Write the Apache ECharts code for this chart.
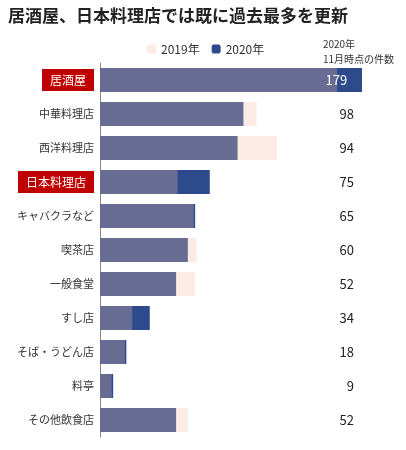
<!DOCTYPE html>
<html><head><meta charset="utf-8">
<script src="https://cdn.jsdelivr.net/npm/echarts@6/dist/echarts.min.js"></script>
<style>html,body{margin:0;padding:0;background:#fff}#c{width:406px;height:450px}</style>
</head><body><div id="c"></div>
<script>
const categories = ['居酒屋','中華料理店','西洋料理店','日本料理店','キャバクラなど','喫茶店','一般食堂','すし店','そば・うどん店','料亭','その他飲食店'];
const values2019 = [162,107,121,53,64,66,65,22,17,8,60];
const values2020 = [179,98,94,75,65,60,52,34,18,9,52];
const highlighted = ['居酒屋','日本料理店'];
const font = '"Noto Sans CJK JP", sans-serif';
const chart = echarts.init(document.getElementById('c'));
chart.setOption({
  animation:false,
  textStyle:{fontFamily:font},
  title:{text:'居酒屋、日本料理店では既に過去最多を更新',left:3,top:2,textStyle:{fontSize:17,fontWeight:'bold',color:'#222',fontFamily:font}},
  legend:{data:['2019年','2020年'],left:142,top:38,itemWidth:9,itemHeight:9,itemGap:12,textStyle:{fontSize:12,color:'#333'}},
  graphic:[{type:'text',right:12,top:37,style:{text:'2020年\n11月時点の件数',align:'center',fill:'#333',font:'10px '+font,lineHeight:15}}],
  grid:{left:100,right:44,top:63,bottom:13},
  xAxis:{type:'value',min:0,max:179,show:false},
  yAxis:[{type:'category',inverse:true,data:categories,axisTick:{show:false},
    axisLine:{lineStyle:{color:'#888'}},
    axisLabel:{margin:6,fontSize:11,color:'#333',formatter:v=>highlighted.includes(v)?'{h|'+v+'}':v,
      rich:{h:{backgroundColor:'#c00000',color:'#fff',fontSize:12,padding:[5,8,5,8]}}}},
   {type:'category',inverse:true,position:'right',data:values2020.map(String),axisLine:{show:false},axisTick:{show:false},
    axisLabel:{margin:-8,align:'right',fontSize:13,color:'#222',formatter:(v,i)=>i===0?'':v}}],
  series:[
    {name:'2020年',type:'bar',data:values2020,barWidth:24,itemStyle:{color:'rgb(44,74,140)'},z:2},
    {name:'2019年',type:'bar',data:values2019,barWidth:24,barGap:'-100%',itemStyle:{color:'rgba(245,188,165,0.3)'},z:3,
     label:{show:true,position:'insideRight',distance:0,color:'#fff',fontSize:13,
       formatter:p=>p.dataIndex===0?String(values2020[0]):''},
     labelLayout:{dx:10}}
  ]
});
</script></body></html>
